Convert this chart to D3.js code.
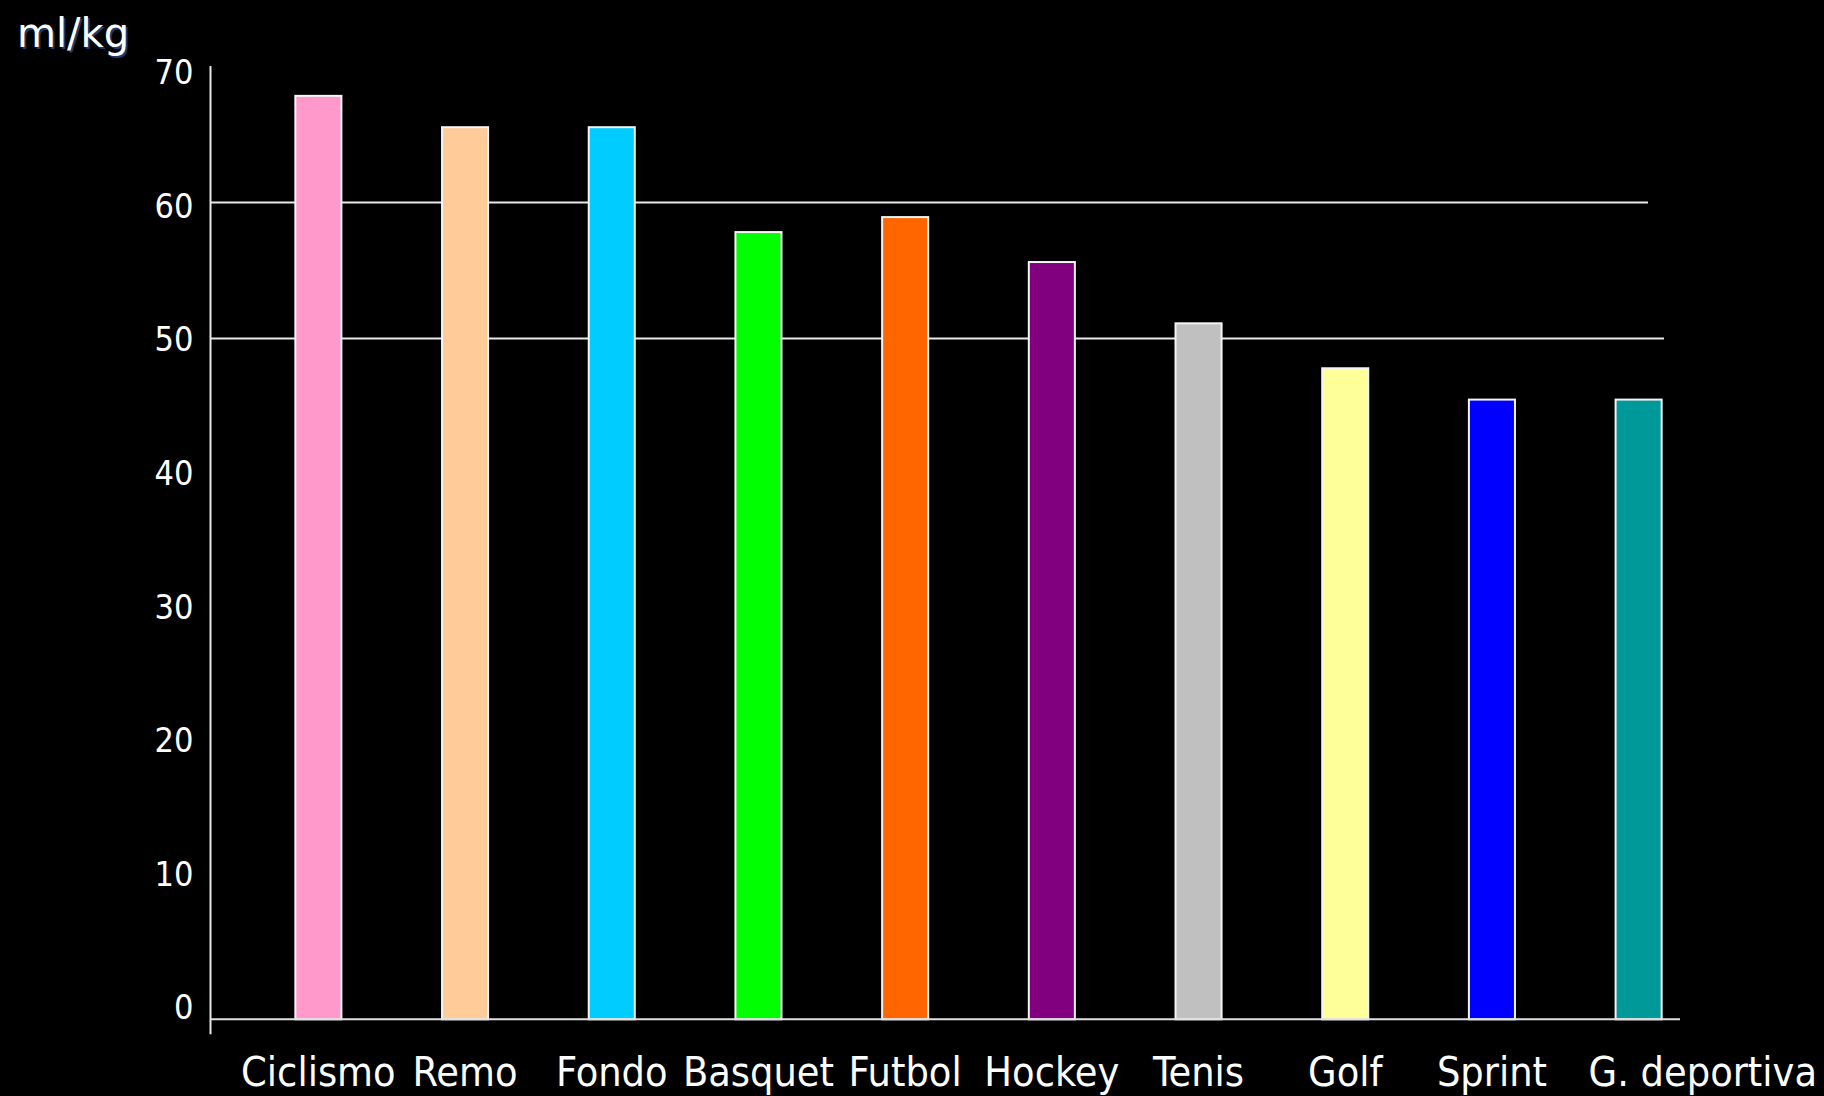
<!DOCTYPE html>
<html>
<head>
<meta charset="utf-8">
<script src="https://cdn.jsdelivr.net/npm/d3@7"></script>
<style>
  html, body { margin: 0; padding: 0; background: #000; }
  svg { display: block; }
</style>
</head>
<body>
<svg id="chart" width="1824" height="1096"></svg>
<script>
const categories = ["Ciclismo", "Remo", "Fondo", "Basquet", "Futbol", "Hockey", "Tenis", "Golf", "Sprint", "G. deportiva"];
const values = [67.8, 65.5, 65.5, 57.8, 58.9, 55.6, 51.1, 47.8, 45.5, 45.5];
const colors = ["#FF99CC", "#FFCC99", "#00CCFF", "#00FF00", "#FF6600", "#800080", "#C0C0C0", "#FFFF99", "#0000FF", "#009999"];
const yTicks = [0, 10, 20, 30, 40, 50, 60, 70];
const gridValues = [50, 60];
const unitLabel = "ml/kg";

const svg = d3.select("#chart");
const W = 1824, H = 1096;
svg.append("rect").attr("width", W).attr("height", H).attr("fill", "#000");

const axisX = 210.5;
const y = d3.scaleLinear().domain([0, 70]).range([1019.3, 65.9]);
// tick labels in the source are spaced slightly tighter than the ticks
const yLabel = d3.scaleLinear().domain([0, 70]).range([1007, 72]);
const x = d3.scaleBand().domain(categories).range([222, 1735])
  .paddingInner(0.686).paddingOuter(0.5);

const condensed = "'DejaVu Sans Condensed', 'DejaVu Sans', sans-serif";

// gridlines (only 50 and 60)
svg.append("g").selectAll("line").data(gridValues).join("line")
  .attr("x1", axisX)
  .attr("x2", d => d === 60 ? 1648 : 1664)
  .attr("y1", d => Math.round(y(d)) + 0.5)
  .attr("y2", d => Math.round(y(d)) + 0.5)
  .attr("stroke", "#e8e8e8").attr("stroke-width", 2);

// bars
svg.append("g").selectAll("rect").data(categories).join("rect")
  .attr("x", d => x(d))
  .attr("width", x.bandwidth())
  .attr("y", (d, i) => y(values[i]))
  .attr("height", (d, i) => y(0) - y(values[i]))
  .attr("fill", (d, i) => colors[i])
  .attr("stroke", "#f4f4f4").attr("stroke-width", 2);

// y axis line
svg.append("line").attr("x1", axisX).attr("x2", axisX)
  .attr("y1", y(70)).attr("y2", y(0) + 15)
  .attr("stroke", "#e8e8e8").attr("stroke-width", 2);
// baseline
svg.append("line").attr("x1", axisX).attr("x2", 1680)
  .attr("y1", y(0)).attr("y2", y(0))
  .attr("stroke", "#e0e0e0").attr("stroke-width", 2);

// y tick labels
svg.append("g").selectAll("text").data(yTicks).join("text")
  .attr("x", axisX - 17)
  .attr("y", d => yLabel(d))
  .attr("dy", "0.36em")
  .attr("text-anchor", "end")
  .attr("fill", "#fff")
  .style("font-family", condensed)
  .style("font-size", "34px")
  .text(d => d);

// category labels
svg.append("g").selectAll("text").data(categories).join("text")
  .attr("x", (d, i) => i === categories.length - 1 ? W - 7 : x(d) + x.bandwidth() / 2)
  .attr("y", 1086)
  .attr("text-anchor", (d, i) => i === categories.length - 1 ? "end" : "middle")
  .attr("fill", "#fff")
  .style("font-family", condensed)
  .style("font-size", "41px")
  .text(d => d);

// unit label with shadow
svg.append("text").attr("x", 19).attr("y", 49)
  .attr("fill", "#1f3a6a")
  .style("font-family", "'DejaVu Sans', sans-serif")
  .style("font-size", "40px")
  .text(unitLabel);
svg.append("text").attr("x", 17).attr("y", 47)
  .attr("fill", "#fff")
  .style("font-family", "'DejaVu Sans', sans-serif")
  .style("font-size", "40px")
  .text(unitLabel);
</script>
</body>
</html>
